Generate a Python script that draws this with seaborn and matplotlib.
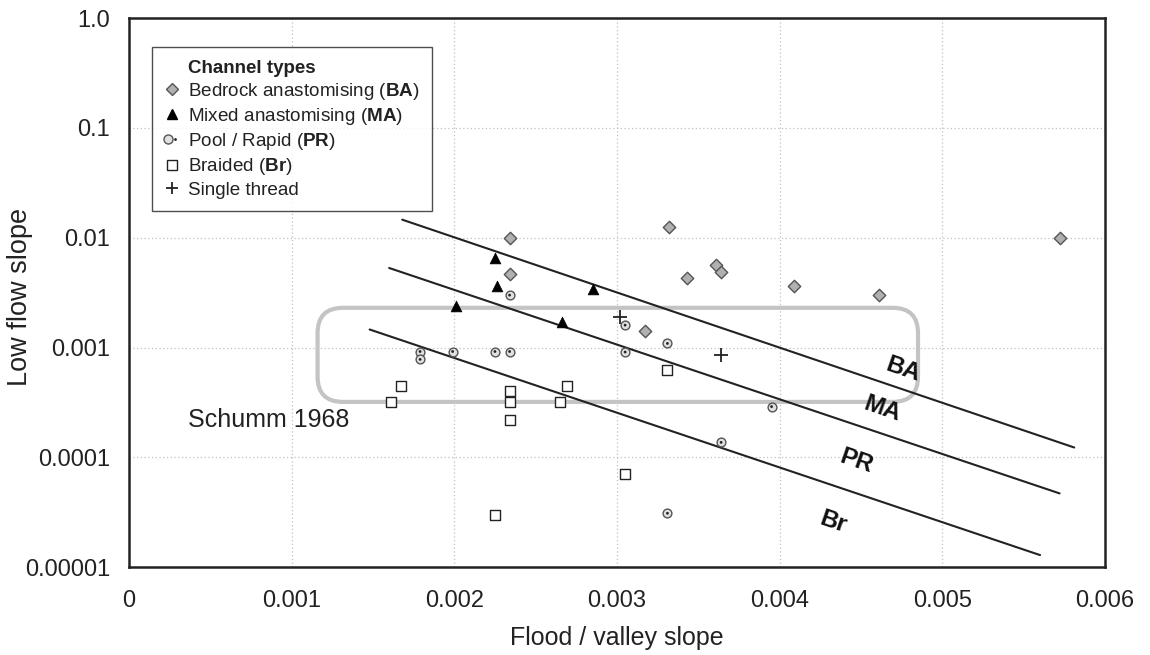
import matplotlib
matplotlib.use("Agg")
import matplotlib.pyplot as plt
import seaborn as sns
import numpy as np
from matplotlib.lines import Line2D
from matplotlib.patches import FancyBboxPatch
from matplotlib.legend_handler import HandlerTuple

# ── Data ────────────────────────────────────────────
ba_x = [0.00234, 0.00234, 0.00332, 0.00343, 0.00361, 0.00364, 0.00317, 0.00409, 0.00461, 0.00572]
ba_y = [0.0100, 0.0047, 0.0126, 0.0043, 0.0056, 0.0049, 0.0014, 0.0036, 0.0030, 0.0100]

ma_x = [0.00225, 0.00226, 0.00201, 0.00285, 0.00266]
ma_y = [0.0066, 0.0036, 0.0024, 0.0034, 0.0017]

pr_x = [0.00234, 0.00179, 0.00179, 0.00199, 0.00225, 0.00234, 0.00305, 0.00305, 0.00331, 0.00395, 0.00364, 0.00331]
pr_y = [0.0030, 0.00092, 0.00078, 0.00092, 0.00092, 0.00092, 0.0016, 0.00091, 0.00109, 0.00029, 0.000137, 0.000031]

br_x = [0.00161, 0.00167, 0.00234, 0.00234, 0.00234, 0.00265, 0.00269, 0.00331, 0.00305, 0.00225]
br_y = [0.00032, 0.00045, 0.00040, 0.00032, 0.00022, 0.00032, 0.00045, 0.00063, 0.00007, 0.00003]

st_x = [0.00302, 0.00364]
st_y = [0.0019, 0.00086]

# threshold lines (start, end)
line_names = ["BA", "MA", "Br"]
line_x = [(0.00168, 0.00581), (0.00160, 0.00572), (0.00148, 0.00560)]
line_y = [(0.0146, 0.000123), (0.0053, 0.000047), (0.00146, 0.0000129)]

# region labels
region_labels = ["BA", "MA", "PR", "Br"]
region_x = [0.00476, 0.00463, 0.00447, 0.00433]
region_y = [0.00063, 0.000273, 0.000092, 0.0000257]

# Schumm 1968 box extent
schumm_x = (0.00116, 0.00485)
schumm_y = (0.00032, 0.0023)

xticks = [0, 0.001, 0.002, 0.003, 0.004, 0.005, 0.006]
xtick_labels = ["0", "0.001", "0.002", "0.003", "0.004", "0.005", "0.006"]
yticks = [1e-5, 1e-4, 1e-3, 1e-2, 1e-1, 1.0]
ytick_labels = ["0.00001", "0.0001", "0.001", "0.01", "0.1", "1.0"]

# ── Style ───────────────────────────────────────────
sns.set_style("white")
plt.rcParams["font.family"] = ["Liberation Sans", "DejaVu Sans"]
plt.rcParams["mathtext.fontset"] = "custom"
plt.rcParams["mathtext.rm"] = "Liberation Sans"
plt.rcParams["mathtext.bf"] = "Liberation Sans:bold"

fig = plt.figure(figsize=(11.5, 6.55), dpi=100)
ax = fig.add_axes([0.112, 0.134, 0.849, 0.8385])
ax.set_yscale("log")
ax.set_xlim(0, 0.006)
ax.set_ylim(1e-5, 1.0)

# grid
for xt in xticks[1:-1]:
    ax.axvline(xt, color="#c0c0c0", lw=0.9, ls=(0, (1, 2)), zorder=0)
for yt in yticks[1:-1]:
    ax.axhline(yt, color="#c0c0c0", lw=0.9, ls=(0, (1, 2)), zorder=0)

# Schumm box
p0 = ax.transAxes.inverted().transform(ax.transData.transform((schumm_x[0], schumm_y[0])))
p1 = ax.transAxes.inverted().transform(ax.transData.transform((schumm_x[1], schumm_y[1])))
box = FancyBboxPatch((p0[0], p0[1]), p1[0] - p0[0], p1[1] - p0[1],
                     boxstyle="round,pad=0,rounding_size=0.026", mutation_aspect=1.78,
                     transform=ax.transAxes, facecolor="none", edgecolor="#c4c4c4",
                     lw=3, zorder=1)
ax.add_patch(box)
ax.text(0.00086, 0.00022, "Schumm 1968", fontsize=18, ha="center", va="center", color="#222222")

# threshold lines
for lx, ly in zip(line_x, line_y):
    ax.plot(lx, ly, color="#222222", lw=1.5, zorder=2)
for lab, tx, ty in zip(region_labels, region_x, region_y):
    ax.text(tx, ty, lab, fontsize=17.5, fontweight="bold", rotation=-19,
            ha="center", va="center", color="#111111", zorder=3)

# points
sns.scatterplot(x=ba_x, y=ba_y, marker="D", s=40, color="#b0b0b0",
                edgecolor="#555555", linewidth=1.0, ax=ax, zorder=4)
sns.scatterplot(x=ma_x, y=ma_y, marker="^", s=60, color="black",
                edgecolor="black", linewidth=0.5, ax=ax, zorder=4)
sns.scatterplot(x=pr_x, y=pr_y, marker="o", s=40, color="#e0e0e0",
                edgecolor="#555555", linewidth=1.0, ax=ax, zorder=4)
sns.scatterplot(x=pr_x, y=pr_y, marker="o", s=4, color="#222222",
                edgecolor="none", ax=ax, zorder=5)
sns.scatterplot(x=br_x, y=br_y, marker="s", s=45, color="white",
                edgecolor="#222222", linewidth=1.0, ax=ax, zorder=4)
sns.scatterplot(x=st_x, y=st_y, marker="+", s=90, color="#222222",
                linewidth=1.3, ax=ax, zorder=4)

# axes
ax.set_xticks(xticks)
ax.set_xticklabels(xtick_labels)
ax.set_yticks(yticks)
ax.set_yticklabels(ytick_labels)
ax.minorticks_off()
ax.tick_params(axis="both", direction="out", length=10.5, width=1.5, labelsize=17,
               color="#222222", labelcolor="#222222", pad=3)
ax.tick_params(axis="x", pad=6)
for sp in ax.spines.values():
    sp.set_visible(True)
    sp.set_color("#222222")
    sp.set_linewidth(1.8)
ax.set_xlabel("Flood / valley slope", fontsize=18, color="#222222", labelpad=10)
ax.set_ylabel("Low flow slope", fontsize=19.5, color="#222222")
# y label sits beside the short tick labels, as in the original
ax.yaxis.set_label_coords(-0.098, 0.492)

# legend
blank = Line2D([], [], lw=0, marker=None)
h_ba = Line2D([], [], lw=0, marker="D", ms=6, mfc="#b0b0b0", mec="#555555")
h_ma = Line2D([], [], lw=0, marker="^", ms=7, mfc="black", mec="black")
h_pr_o = Line2D([], [], lw=0, marker="o", ms=6.5, mfc="#e0e0e0", mec="#555555")
h_pr_d = Line2D([], [], lw=0, marker="o", ms=2, mfc="#222222", mec="none")
h_br = Line2D([], [], lw=0, marker="s", ms=6.5, mfc="white", mec="#222222")
h_st = Line2D([], [], lw=0, marker="+", ms=9, mec="#222222", mew=1.3)
handles = [blank, h_ba, h_ma, (h_pr_o, h_pr_d), h_br, h_st]
labels = ["Channel types",
          r"Bedrock anastomising ($\mathbf{BA}$)",
          r"Mixed anastomising ($\mathbf{MA}$)",
          r"Pool / Rapid ($\mathbf{PR}$)",
          r"Braided ($\mathbf{Br}$)",
          "Single thread"]
leg = ax.legend(handles, labels, loc="upper left", bbox_to_anchor=(0.0236, 0.947),
                borderaxespad=0, fontsize=13.6, labelspacing=0.22, handlelength=0.8,
                handletextpad=0.45, borderpad=0.65, fancybox=False, frameon=True,
                handler_map={tuple: HandlerTuple(ndivide=None, pad=0)})
leg.get_frame().set_edgecolor("#222222")
leg.get_frame().set_linewidth(1.0)
leg.get_texts()[0].set_fontweight("bold")
leg.get_texts()[0].set_fontsize(13.5)
for t in leg.get_texts():
    t.set_color("#222222")

fig.savefig("out.png", dpi=100)
